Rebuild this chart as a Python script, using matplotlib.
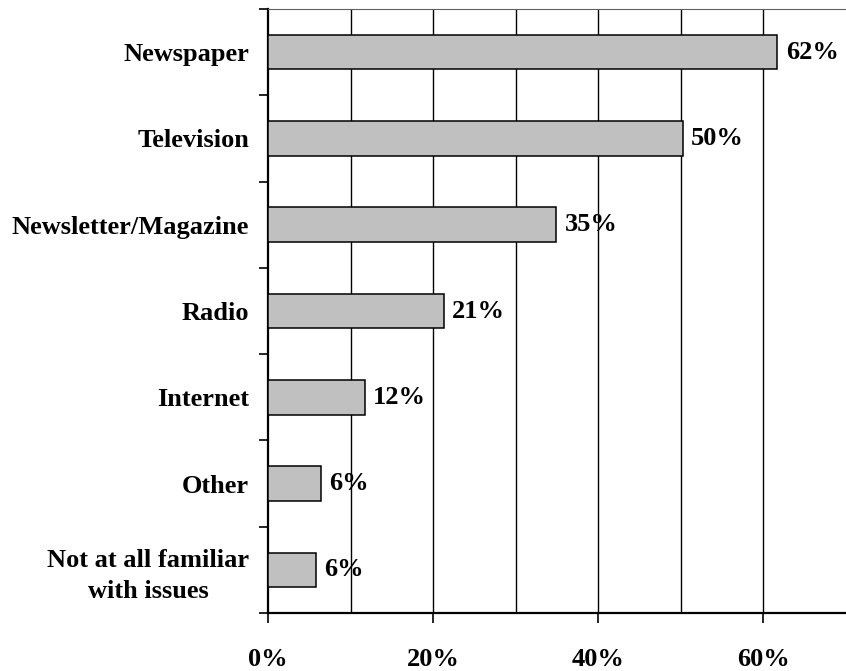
import numpy as np
from matplotlib import pyplot as plt
from matplotlib.ticker import MultipleLocator, FixedLocator

plt.rcParams['font.family'] = ['Liberation Serif', 'DejaVu Serif']
plt.rcParams['font.weight'] = 'bold'

categories = ['Newspaper', 'Television', 'Newsletter/Magazine', 'Radio',
              'Internet', 'Other', 'Not at all familiar\nwith issues']
values = [61.7, 50.2, 34.9, 21.3, 11.7, 6.4, 5.8]
xticks = [0, 20, 40, 60]

fig = plt.figure(figsize=(8.46, 6.71), dpi=100)
ax = fig.add_axes([268/846, 1 - 613/671, 1 - 268/846, (613 - 9)/671])

y = np.arange(len(categories))
ax.set_axisbelow(True)
ax.barh(y, values, height=0.4, color='#c0c0c0', edgecolor='black', linewidth=1.1, zorder=3)

for yi, v in zip(y, values):
    ax.text(v + 1.0, yi, '%d%%' % round(v), va='center', ha='left',
            fontsize=19, fontweight='bold', zorder=4)

ax.set_xlim(0, 70)
ax.set_ylim(len(categories) - 0.5, -0.5)

# x axis
ax.xaxis.set_major_locator(FixedLocator(xticks))
ax.xaxis.set_minor_locator(MultipleLocator(10))
ax.set_xticklabels(['%d%%' % t for t in xticks], fontsize=19, fontweight='bold')
ax.tick_params(axis='x', which='major', direction='out', length=7, width=1.2, pad=18)
ax.tick_params(axis='x', which='minor', length=0)
for g in range(10, 70, 10):
    ax.axvline(g, color='black', linewidth=1.0, zorder=1)

# y axis
ax.set_yticks(y)
ax.set_yticklabels(categories, fontsize=19, fontweight='bold')
for lab in ax.get_yticklabels():
    lab.set_multialignment('center')
    lab.set_linespacing(1.4)
ax.yaxis.set_minor_locator(FixedLocator(np.arange(-0.5, len(categories), 1.0)))
ax.tick_params(axis='y', which='major', length=0, pad=13.5)
ax.tick_params(axis='y', which='minor', direction='out', length=6.5, width=1.2)

ax.spines['left'].set_linewidth(1.6)
ax.spines['bottom'].set_linewidth(1.6)
ax.spines['right'].set_visible(False)
ax.spines['top'].set_color('#606060')
ax.spines['top'].set_linewidth(0.8)

fig.savefig('out.png', dpi=100)
